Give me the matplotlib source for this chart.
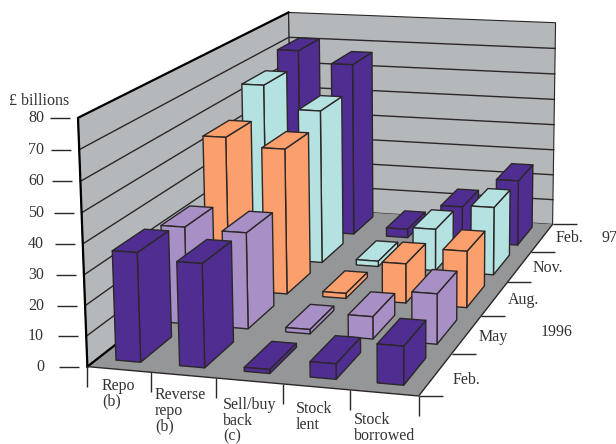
import numpy as np
import matplotlib
matplotlib.use('Agg')
import matplotlib.pyplot as plt
from matplotlib.lines import Line2D
from mpl_toolkits.mplot3d import proj3d
from mpl_toolkits.mplot3d.art3d import Poly3DCollection

plt.rcParams['font.family'] = ['Liberation Serif', 'DejaVu Serif']

W, H = 616, 444

categories = ['Repo\n(b)', 'Reverse\nrepo\n(b)', 'Sell/buy\nback\n(c)', 'Stock\nlent', 'Stock\nborrowed']
periods = ['Feb.', 'May', 'Aug.', 'Nov.', 'Feb.']
z_ticks = [0, 10, 20, 30, 40, 50, 60, 70, 80]

# rows run Feb 96 -> Feb 97
repo = [36, 33.5, 55, 65.5, 71]
reverse_repo = [34, 33, 52, 57, 66.5]
sell_buy_back = [1.3, 1.5, 1.8, 2, 3.3]
stock_lent = [5, 7.6, 14, 15.5, 13.5]
stock_borrowed = [12.5, 17, 20, 25, 25]
series = [repo, reverse_repo, sell_buy_back, stock_lent, stock_borrowed]

row_colors = ['#4f2d91', '#a88fc5', '#fb9f6c', '#b4e2e0', '#4f2d91']
LINE = '#2b2728'
WALL = '#b5b8ba'
FLOOR = '#949698'
TEXT = '#333333'

fig = plt.figure(figsize=(W / 100, H / 100), dpi=100)
ax = fig.add_axes([0, 0, 1, 1], projection='3d', computed_zorder=False)
ax.set_xlim(0, 5, view_margin=0)
ax.set_ylim(0, 5, view_margin=0)
ax.set_zlim(0, 80, view_margin=0)
ax.view_init(13.418, -73.535, 0.476)
ax.set_proj_type('persp', focal_length=0.5729)
ax.set_box_aspect((1, 1.9573, 0.7432))
ax.set_axis_off()
ax.patch.set_alpha(0)

# place the axes so that the view scale lands where we want it
scale, cx, cy = 3751.58, 344.59, 177.69
(a, c), (b, d) = ax.transData.inverted().transform(ax.transAxes.transform([[0, 0], [1, 1]]))
side = scale * (b - a)
ax.set_position([(cx + scale * a) / W, 1 - (cy - scale * c) / H, side / W, side / H])
ax.apply_aspect()
M = ax.get_proj()


def to_px(x, y, z):
    u, v, _ = proj3d.proj_transform(x, y, z, M)
    p = ax.transData.transform((float(u), float(v)))
    return p[0], H - p[1]


def px_line(x0, y0, x1, y1, lw=1.0):
    fig.add_artist(Line2D([x0 / W, x1 / W], [1 - y0 / H, 1 - y1 / H], color=LINE,
                          lw=lw, transform=fig.transFigure, solid_capstyle='butt'))


def px_text(x, y, s, ha='left', va='center'):
    fig.text(x / W, 1 - y / H, s, ha=ha, va=va, fontsize=11.5, color=TEXT, linespacing=0.96)


def add_faces(faces, color, edge, lw, zorder):
    poly = Poly3DCollection(faces, facecolors=color, edgecolors=edge, linewidths=lw, zorder=zorder)
    ax.add_collection3d(poly)


# walls and floor
add_faces([[(0, 0, 0), (0, 5, 0), (0, 5, 80), (0, 0, 80)],
           [(0, 5, 0), (5, 5, 0), (5, 5, 80), (0, 5, 80)]], WALL, LINE, 0.8, 1)
add_faces([[(0, 0, 0), (5, 0, 0), (5, 5, 0), (0, 5, 0)]], FLOOR, 'none', 0, 2)

# gridlines around the two walls
for z in z_ticks[1:-1]:
    ax.plot([0, 0, 5], [0, 5, 5], [z, z, z], color=LINE, lw=1.0, zorder=3)
ax.plot([0, 0, 0], [5, 0, 0], [80, 80, 0], color='black', lw=1.6, zorder=3)
ax.plot([0, 0], [0, 5], [0, 0], color='black', lw=1.6, zorder=3)
ax.plot([0, 5, 5], [0, 0, 5], [0, 0, 0], color=LINE, lw=1.0, zorder=3)

# bars, painted from the back row forward and left to right
x0, x1 = 0.29, 0.68
y0, y1 = 0.20, 0.85
order = 10
for row in range(4, -1, -1):
    for col, values in enumerate(series):
        h = values[row]
        xa, xb = col + x0, col + x1
        ya, yb = row + y0, row + y1
        faces = [[(xa, ya, 0), (xb, ya, 0), (xb, ya, h), (xa, ya, h)],
                 [(xb, ya, 0), (xb, yb, 0), (xb, yb, h), (xb, ya, h)],
                 [(xa, ya, h), (xb, ya, h), (xb, yb, h), (xa, yb, h)]]
        add_faces(faces, row_colors[row], LINE, 1.0, order)
        order += 1

# value ticks left of the wall
for z in z_ticks:
    px, py = to_px(0, 0, z)
    px_line(px - 28, py, px - 8, py)
    px_text(44, py, str(z), ha='right')
px_text(9, 101, '£ billions')

# category ticks under the front edge, one more at the end
for i in range(6):
    px, py = to_px(i, 0, 0)
    px_line(px, py, px, py + 20)
for s, (lx, ly) in zip(categories, [(102, 378), (155, 387), (223, 397), (296, 401), (354, 412)]):
    px_text(lx, ly, s, va='top')

# period ticks to the right of the floor
for j in range(6):
    px, py = to_px(5, j, 0)
    px_line(px, py, px + 24, py)
for s, (lx, ly) in zip(periods, [(453, 380), (479, 337), (508, 300), (533, 268), (556, 238)]):
    px_text(lx, ly, s)
px_text(601, 238, '97')
px_text(541, 332, '1996')

fig.savefig('out.png', dpi=100)
